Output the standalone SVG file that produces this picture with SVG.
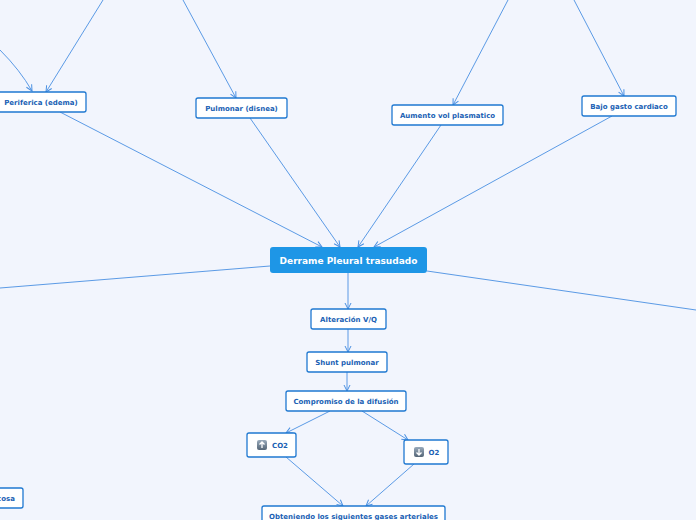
<svg xmlns="http://www.w3.org/2000/svg" width="696" height="520" viewBox="0 0 696 520">
<defs>
<marker id="a" markerWidth="8" markerHeight="8" refX="7" refY="4" orient="auto" markerUnits="userSpaceOnUse"><path d="M1,1 L7,4 L1,7" fill="none" stroke="#4a90e2" stroke-width="1"/></marker>
<linearGradient id="ic" x1="0" y1="0" x2="0" y2="1"><stop offset="0" stop-color="#9ab"/><stop offset="1" stop-color="#567"/></linearGradient>
</defs>
<style>
.n rect{fill:#fff;stroke:#1f78d1;stroke-width:1.3}
.n text{font-family:"DejaVu Sans",sans-serif;font-size:7px;font-weight:bold;fill:#1a5fb4;text-anchor:middle}
.c line,.c path{stroke:#4a90e2;stroke-width:0.9;fill:none;marker-end:url(#a)}
.c .p{marker-end:none}
</style>
<rect width="696" height="520" fill="#f2f5fd"/>
<g class="c">
<path d="M0,50 Q20,70 32,91"/>
<line x1="103" y1="0" x2="46" y2="92"/>
<line x1="183" y1="0" x2="236" y2="98"/>
<line x1="508" y1="0" x2="453" y2="105"/>
<line x1="574" y1="0" x2="624" y2="96"/>
<line x1="60" y1="112" x2="322" y2="247"/>
<line x1="250" y1="118" x2="340" y2="247"/>
<line x1="441" y1="125" x2="358" y2="247"/>
<line x1="612" y1="116" x2="374" y2="247"/>
<line class="p" x1="270" y1="266" x2="0" y2="288"/>
<line class="p" x1="427" y1="271" x2="696" y2="310"/>
<line x1="348" y1="273" x2="348" y2="309"/>
<line x1="348" y1="329" x2="348" y2="352"/>
<line x1="347" y1="372" x2="347" y2="391"/>
<line x1="330" y1="411" x2="286" y2="433"/>
<line x1="362" y1="411" x2="408" y2="440"/>
<line x1="286" y1="457" x2="343" y2="506"/>
<line x1="414" y1="464" x2="366" y2="506"/>
</g>
<g id="central"><rect x="270" y="247" width="157" height="26" rx="3" fill="#1e96e6"/><text x="348.5" y="264" font-family="DejaVu Sans,sans-serif" font-size="9" font-weight="bold" fill="#fff" text-anchor="middle">Derrame Pleural trasudado</text></g>
<g id="n1" class="n"><rect x="-4" y="92" width="90" height="20" rx="2"/><text x="41" y="105">Periferica (edema)</text></g>
<g id="n2" class="n"><rect x="196" y="98" width="91" height="20" rx="2"/><text x="241.5" y="111">Pulmonar (disnea)</text></g>
<g id="n3" class="n"><rect x="392" y="105" width="111" height="20" rx="2"/><text x="447.5" y="118">Aumento vol plasmatico</text></g>
<g id="n4" class="n"><rect x="582" y="96" width="94" height="20" rx="2"/><text x="629" y="109">Bajo gasto cardiaco</text></g>
<g id="n5" class="n"><rect x="311" y="309" width="75" height="20" rx="2"/><text x="348.5" y="322">Alteración V/Q</text></g>
<g id="n6" class="n"><rect x="307" y="352" width="80" height="20" rx="2"/><text x="347" y="365">Shunt pulmonar</text></g>
<g id="n7" class="n"><rect x="286" y="391" width="120" height="20" rx="2"/><text x="346" y="404">Compromiso de la difusión</text></g>
<g id="n8" class="n"><rect x="247" y="433" width="49" height="24" rx="2"/><rect x="257" y="440" width="10" height="10" rx="2" style="fill:url(#ic);stroke:none"/><path d="M262,448 V442 M259.5,444.5 L262,442 L264.5,444.5" stroke="#fff" stroke-width="1.3" fill="none"/><text x="280" y="448">CO2</text></g>
<g id="n9" class="n"><rect x="404" y="440" width="44" height="24" rx="2"/><rect x="414" y="447" width="10" height="10" rx="2" style="fill:url(#ic);stroke:none"/><path d="M419,449 V455 M416.5,452.5 L419,455 L421.5,452.5" stroke="#fff" stroke-width="1.3" fill="none"/><text x="434" y="455">O2</text></g>
<g id="n10" class="n"><rect x="262" y="506" width="183" height="20" rx="2"/><text x="353.5" y="519">Obteniendo los siguientes gases arteriales</text></g>
<g id="n11" class="n"><rect x="-5" y="488" width="28" height="20" rx="2"/><text x="6" y="501">cosa</text></g>
</svg>
